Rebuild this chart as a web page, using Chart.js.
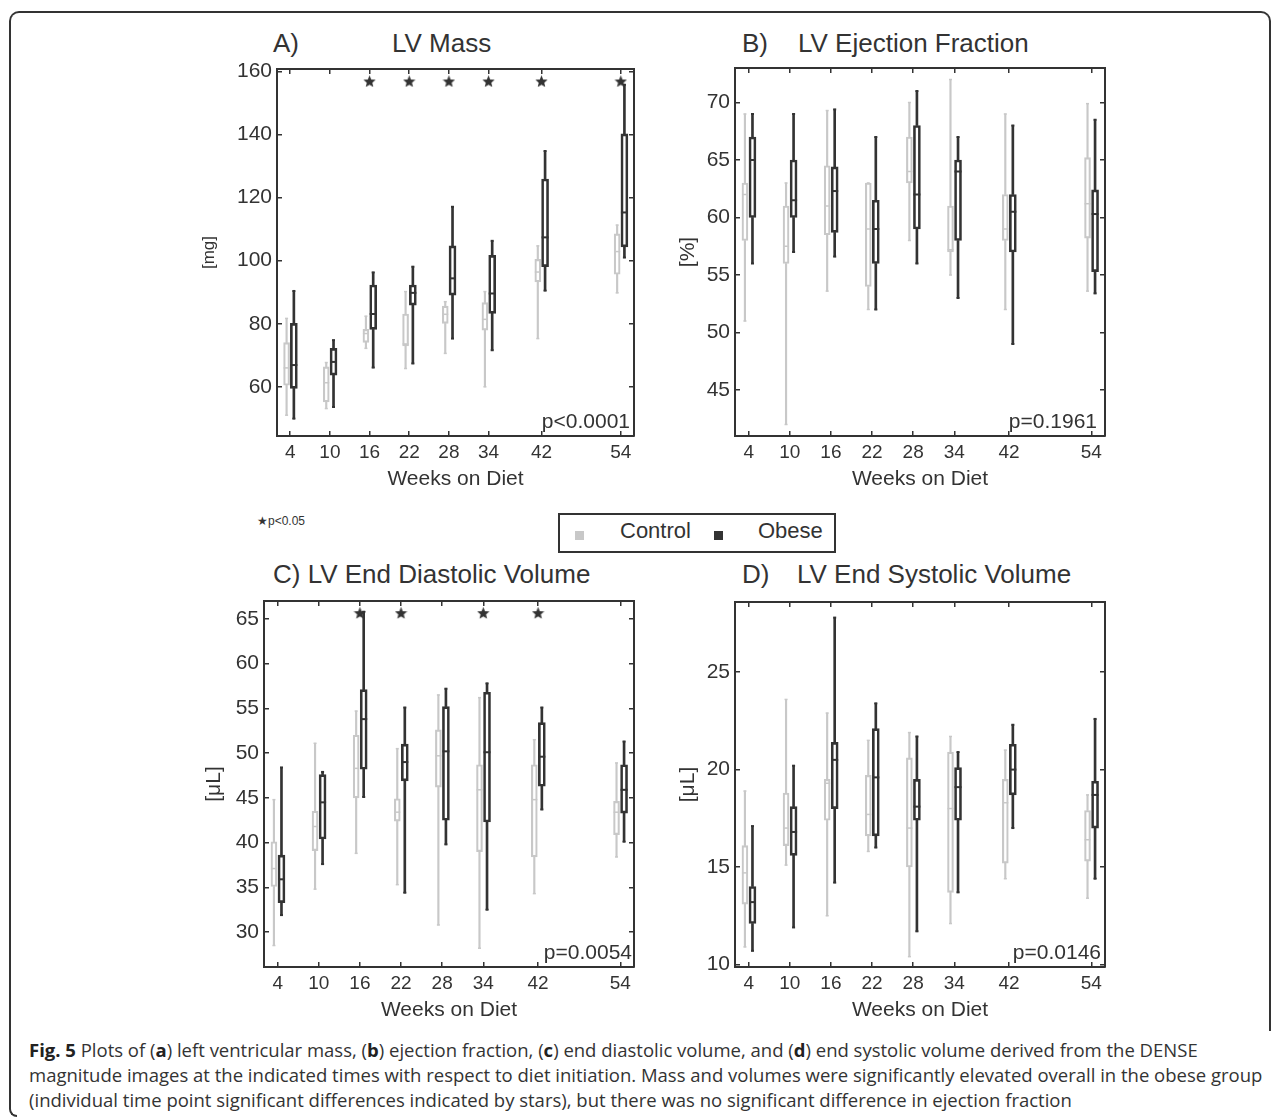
<!DOCTYPE html>
<html lang="en">
<head>
<meta charset="UTF-8">
<title>Fig. 5 LV mass, ejection fraction and volumes</title>
<script src="https://cdn.jsdelivr.net/npm/chart.js"></script>
<style>
  body { margin: 0; width: 1281px; height: 1119px; position: relative; overflow: hidden; background: #fff;
         font-family: "Liberation Sans", Arial, Helvetica, sans-serif; color: #333; }
  canvas { position: absolute; }
  .frame { position: absolute; left: 9px; top: 11px; width: 1262px; height: 1020px; box-sizing: border-box;
           border: 2px solid #333; border-bottom: none; border-radius: 10px 10px 0 0; }
  .frame2 { position: absolute; left: 9px; top: 1000px; width: 8px; height: 117px; box-sizing: border-box;
            border-left: 2px solid #333; border-bottom: 2px solid #333; border-radius: 0 0 0 10px; }
  .ptitle { position: absolute; font-size: 26px; line-height: 26px; white-space: nowrap; }
  .legend { position: absolute; left: 558px; top: 513px; width: 278px; height: 40px; box-sizing: border-box; border: 2px solid #333; }
  .sq { position: absolute; width: 9px; height: 9px; }
  .ltext { position: absolute; font-size: 22px; line-height: 22px; white-space: nowrap; }
  .note { position: absolute; left: 257px; top: 515px; font-size: 12px; line-height: 12px; white-space: nowrap; }
  .caption { position: absolute; left: 29px; top: 1037px; font-family: "Open Sans", sans-serif; font-size: 18.5px;
             line-height: 25px; color: #333; white-space: nowrap; }
  .caption b { color: #222; }
</style>
</head>
<body>
<div class="frame"></div>
<div class="frame2"></div>

<div class="ptitle" style="left:273px; top:30px">A)</div>
<div class="ptitle" style="left:392px; top:30px">LV Mass</div>
<div class="ptitle" style="left:742px; top:30px">B)</div>
<div class="ptitle" style="left:798px; top:30px">LV Ejection Fraction</div>
<div class="ptitle" style="left:273px; top:561px">C) LV End Diastolic Volume</div>
<div class="ptitle" style="left:742px; top:561px">D)</div>
<div class="ptitle" style="left:797px; top:561px">LV End Systolic Volume</div>

<div class="note">★p&lt;0.05</div>
<div class="legend"></div>
<div class="sq" style="left:575px; top:531px; background:#c8c8c8"></div>
<div class="ltext" style="left:620px; top:520px">Control</div>
<div class="sq" style="left:714px; top:531px; background:#333"></div>
<div class="ltext" style="left:758px; top:520px">Obese</div>

<div class="caption">
<b>Fig. 5</b> Plots of (<b>a</b>) left ventricular mass, (<b>b</b>) ejection fraction, (<b>c</b>) end diastolic volume, and (<b>d</b>) end systolic volume derived from the DENSE<br>
magnitude images at the indicated times with respect to diet initiation. Mass and volumes were significantly elevated overall in the obese group<br>
(individual time point significant differences indicated by stars), but there was no significant difference in ejection fraction
</div>

<script>
const weeks = [4, 10, 16, 22, 28, 34, 42, 54];

// each row: [lower whisker, q1, median, q3, upper whisker]
const massControl = [[51.0, 60.5, 66.0, 74.0, 81.7], [53.1, 55.2, 61.3, 66.3, 67.7], [72.2, 74.1, 76.9, 78.2, 82.4], [65.8, 73.0, 73.6, 83.1, 90.2],
                     [70.6, 80.1, 83.0, 85.6, 87.0], [60.0, 78.0, 81.4, 86.7, 90.2], [75.3, 93.3, 96.4, 100.4, 104.7], [89.8, 95.7, 102.9, 108.5, 111.3]];
const massObese = [[49.9, 59.5, 66.9, 80.1, 90.4], [53.6, 63.7, 67.9, 72.2, 74.8], [66.1, 78.2, 83.1, 92.3, 96.3], [67.4, 85.9, 89.8, 92.3, 98.1],
                   [75.3, 89.1, 94.4, 104.7, 117.1], [71.6, 83.3, 89.6, 101.7, 106.3], [90.5, 98.1, 107.4, 125.9, 134.8], [101.0, 104.4, 115.3, 140.2, 155.8]];
const efControl = [[51, 58, 62, 63, 69], [42, 56, 57.5, 61, 63], [53.6, 58.5, 61, 64.5, 69.3], [52, 54, 59, 63, 63],
                   [58, 63, 64, 67, 70], [55, 57, 57.2, 61, 72], [52, 58, 59, 62, 69], [53.6, 58.2, 61.2, 65.2, 69.9]];
const efObese = [[56, 60, 65, 67, 69], [57, 60, 61.5, 65, 69], [56.6, 58.7, 62.3, 64.4, 69.4], [52, 56, 59, 61.5, 67],
                 [56, 59, 62, 68, 71], [53, 58, 64, 65, 67], [49, 57, 60.5, 62, 68], [53.4, 55.3, 60.3, 62.4, 68.5]];
const edvControl = [[28.5, 35.1, 37.1, 40.1, 44.8], [34.8, 39.1, 41.8, 43.5, 51.1], [38.8, 45.0, 48.3, 52.0, 54.7], [35.3, 42.4, 43.4, 44.9, 50.5],
                    [30.8, 46.2, 49.7, 52.6, 56.5], [28.2, 39.0, 45.9, 48.7, 56.2], [34.3, 38.4, 44.8, 48.7, 51.5], [38.4, 40.9, 43.4, 44.6, 48.9]];
const edvObese = [[31.9, 33.3, 35.9, 38.6, 48.4], [37.6, 40.4, 44.5, 47.6, 47.9], [45.1, 48.2, 53.8, 57.1, 65.8], [34.4, 46.9, 49.0, 51.0, 55.1],
                  [39.8, 42.5, 50.2, 55.2, 57.2], [32.5, 42.3, 50.1, 56.8, 57.8], [43.7, 46.3, 49.6, 53.4, 55.1], [40.1, 43.3, 45.9, 48.7, 51.3]];
const esvControl = [[10.9, 13.1, 14.7, 16.1, 18.9], [15.1, 16.1, 17.0, 18.8, 23.6], [12.5, 17.4, 19.3, 19.5, 22.9], [15.8, 16.6, 17.7, 19.7, 21.5],
                    [10.4, 15.0, 17.0, 20.6, 21.9], [12.1, 13.7, 18.0, 20.9, 21.7], [14.4, 15.2, 18.3, 19.5, 21.0], [13.4, 15.3, 16.4, 17.9, 18.7]];
const esvObese = [[10.7, 12.1, 13.2, 14.0, 17.1], [11.9, 15.6, 16.8, 18.1, 20.2], [14.2, 18.0, 20.5, 21.4, 27.8], [16.0, 16.6, 19.6, 22.1, 23.4],
                  [11.7, 17.4, 18.1, 19.5, 21.7], [13.7, 17.4, 19.1, 20.1, 20.9], [17.0, 18.7, 20.0, 21.3, 22.3], [14.4, 17.0, 18.7, 19.4, 22.6]];

// weeks with p<0.05 between groups
const massStars = [16, 22, 28, 34, 42, 54];
const edvStars = [16, 22, 34, 42];

const massTicks = [60, 80, 100, 120, 140, 160];
const efTicks = [45, 50, 55, 60, 65, 70];
const edvTicks = [30, 35, 40, 45, 50, 55, 60, 65];
const esvTicks = [10, 15, 20, 25];

const CTRL = '#c8c8c8';
const OBESE = '#333333';
const INK = '#333333';
const FONT = '"Liberation Sans", Arial, Helvetica, sans-serif';
const OFF = 0.55; // side offset of each group from the week, in weeks

function starImage(size, color) {
  const c = document.createElement('canvas');
  c.width = c.height = size;
  const g = c.getContext('2d');
  g.fillStyle = color;
  g.beginPath();
  for (let i = 0; i < 10; i++) {
    const r = i % 2 ? size * 0.22 : size * 0.5;
    const a = -Math.PI / 2 + i * Math.PI / 5;
    g.lineTo(size / 2 + r * Math.cos(a), size / 2 + r * Math.sin(a) + size * 0.06);
  }
  g.closePath();
  g.fill();
  return c;
}
const STAR = starImage(13, '#333');

// p-value text in the lower right corner of the axes
const pLabel = {
  id: 'pLabel',
  afterDraw(chart, args, opts) {
    const {ctx, chartArea} = chart;
    ctx.save();
    ctx.font = '21px ' + FONT;
    ctx.fillStyle = INK;
    ctx.textAlign = 'right';
    ctx.textBaseline = 'alphabetic';
    ctx.fillText(opts.text, chartArea.right - opts.gap, chartArea.bottom - 8);
    ctx.restore();
  }
};

function groupSets(rows, dx, color, thick, lw) {
  const pts = rows.map((r, i) => ({x: weeks[i] + dx, r}));
  return [
    {type: 'bar', label: 'whisker', order: 3, grouped: false, barThickness: lw, backgroundColor: color, borderWidth: 0,
     data: pts.flatMap(p => [{x: p.x, y: [p.r[0], p.r[1]]}, {x: p.x, y: [p.r[3], p.r[4]]}])},
    {type: 'bar', label: 'box', order: 2, grouped: false, barThickness: thick, backgroundColor: 'rgba(0,0,0,0)',
     borderColor: color, borderWidth: lw, borderSkipped: false,
     data: pts.map(p => ({x: p.x, y: [p.r[1], p.r[3]]}))},
    {type: 'scatter', label: 'median', order: 1, pointStyle: 'line', pointRadius: thick / 2, pointBorderColor: color,
     pointBorderWidth: lw, data: pts.map(p => ({x: p.x, y: p.r[2]}))},
    {type: 'scatter', label: 'cap', order: 1, pointStyle: 'line', pointRadius: 1.5, pointBorderColor: color,
     pointBorderWidth: lw, data: pts.flatMap(p => [{x: p.x, y: p.r[0]}, {x: p.x, y: p.r[4]}])}
  ];
}

function makePanel(cfg) {
  const L = 130, R = 16, T = 24, B = 64;
  const canvas = document.createElement('canvas');
  const w = cfg.plot.r - cfg.plot.l + L + R;
  const h = cfg.plot.b - cfg.plot.t + T + B;
  canvas.width = w;
  canvas.height = h;
  canvas.style.left = (cfg.plot.l - L) + 'px';
  canvas.style.top = (cfg.plot.t - T) + 'px';
  document.body.appendChild(canvas);

  const datasets = [
    ...groupSets(cfg.control, -OFF, CTRL, 6, 1.5),
    ...groupSets(cfg.obese, OFF, OBESE, 7, 2)
  ];
  if (cfg.stars) {
    datasets.push({type: 'scatter', label: 'p<0.05', order: 0, pointStyle: STAR, pointRadius: 6,
                   data: cfg.stars.map(wk => ({x: wk, y: cfg.starY}))});
  }

  const yLh = cfg.yTitleSize * 1.2;
  const xLh = 21 * 1.2;
  const tickGrid = {display: true, offset: false, drawOnChartArea: false, drawTicks: true, tickLength: -5,
                    color: INK, tickColor: INK, lineWidth: 1.5};
  const border = {display: true, color: INK, width: 2};
  const xTicks = s => { s.ticks = weeks.map(v => ({value: v})); };
  const yTicks = s => { s.ticks = cfg.yTicks.map(v => ({value: v})); };

  new Chart(canvas, {
    type: 'bar',
    data: {datasets},
    options: {
      responsive: false,
      animation: false,
      events: [],
      layout: {padding: 0},
      plugins: {legend: {display: false}, tooltip: {enabled: false}, pLabel: {text: cfg.p, gap: cfg.pGap}},
      scales: {
        x: {type: 'linear', position: 'bottom', min: 2, max: 56, offset: false, grid: tickGrid, border,
            ticks: {color: INK, font: {family: FONT, size: 19}, padding: 10, autoSkip: false, maxRotation: 0},
            title: {display: true, text: 'Weeks on Diet', color: INK, font: {family: FONT, size: 21},
                    padding: {top: 0, bottom: cfg.plot.b + B - (cfg.plot.b + 43) - xLh / 2}},
            afterBuildTicks: xTicks, afterFit: s => { s.height = B; }},
        x2: {type: 'linear', position: 'top', min: 2, max: 56, offset: false, grid: tickGrid, border,
             ticks: {display: false}, afterBuildTicks: xTicks, afterFit: s => { s.height = T; }},
        y: {type: 'linear', position: 'left', min: cfg.yMin, max: cfg.yMax, grid: tickGrid, border,
            ticks: {color: INK, font: {family: FONT, size: 21}, padding: 10},
            title: {display: true, text: cfg.yTitle, color: INK, font: {family: FONT, size: cfg.yTitleSize},
                    padding: {top: cfg.yTitleX - (cfg.plot.l - L) - yLh / 2, bottom: 0}},
            afterBuildTicks: yTicks, afterFit: s => { s.width = L; }},
        y2: {type: 'linear', position: 'right', min: cfg.yMin, max: cfg.yMax, grid: tickGrid, border,
             ticks: {display: false}, afterBuildTicks: yTicks, afterFit: s => { s.width = R; }}
      }
    },
    plugins: [pLabel]
  });
}

makePanel({plot: {l: 277, t: 69, r: 634, b: 436}, yMin: 44.4, yMax: 160.8, yTicks: massTicks,
           control: massControl, obese: massObese, stars: massStars, starY: 157,
           yTitle: '[mg]', yTitleSize: 17, yTitleX: 209, p: 'p<0.0001', pGap: 4});
makePanel({plot: {l: 735, t: 68, r: 1105, b: 436}, yMin: 41, yMax: 73, yTicks: efTicks,
           control: efControl, obese: efObese,
           yTitle: '[%]', yTitleSize: 21, yTitleX: 688, p: 'p=0.1961', pGap: 8});
makePanel({plot: {l: 264, t: 601, r: 634, b: 967}, yMin: 26.1, yMax: 67, yTicks: edvTicks,
           control: edvControl, obese: edvObese, stars: edvStars, starY: 65.7,
           yTitle: '[μL]', yTitleSize: 21, yTitleX: 214, p: 'p=0.0054', pGap: 2});
makePanel({plot: {l: 735, t: 602, r: 1105, b: 967}, yMin: 9.87, yMax: 28.6, yTicks: esvTicks,
           control: esvControl, obese: esvObese,
           yTitle: '[μL]', yTitleSize: 21, yTitleX: 688, p: 'p=0.0146', pGap: 4});
</script>
</body>
</html>
